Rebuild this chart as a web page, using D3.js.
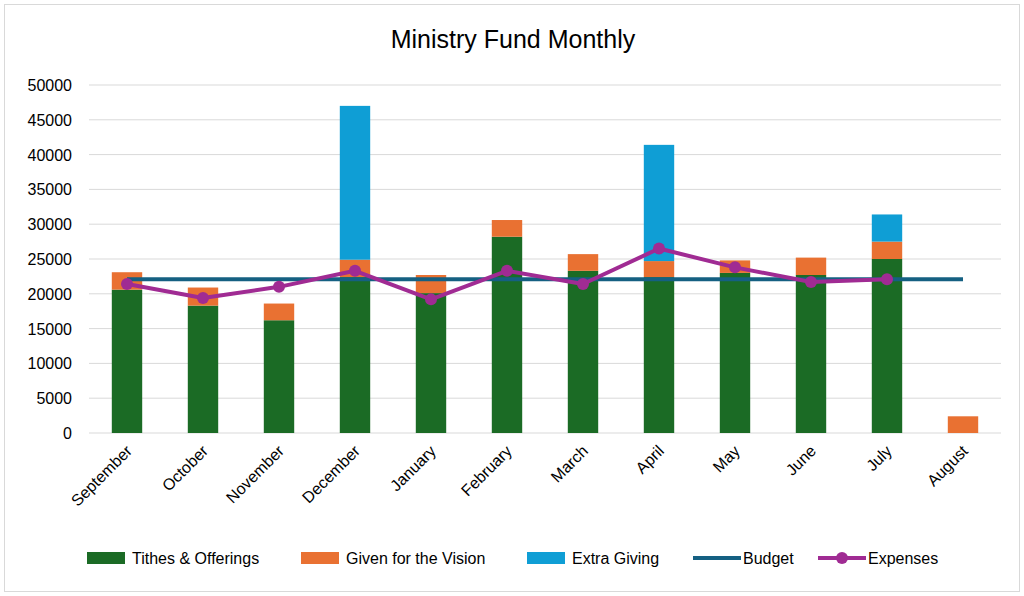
<!DOCTYPE html>
<html><head><meta charset="utf-8">
<script src="https://cdn.jsdelivr.net/npm/d3@7"></script>
<style>body{margin:0;background:#fff;font-family:"Liberation Sans",Arial,sans-serif}</style>
</head><body><svg id="c" width="1024" height="596"></svg>
<script>
var months = ["September","October","November","December","January","February","March","April","May","June","July","August"];
var tithes = [20600,18300,16200,22400,20100,28200,23300,22400,23000,22700,25000,0];
var vision = [2500,2600,2400,2500,2600,2400,2400,2300,1800,2500,2500,2400];
var extra  = [0,0,0,22100,0,0,0,16700,0,0,3900,0];
var budget = [22100,22100,22100,22100,22100,22100,22100,22100,22100,22100,22100,22100];
var expenses = [21400,19400,21000,23300,19200,23300,21400,26500,23800,21700,22100];
var yTicks = [0,5000,10000,15000,20000,25000,30000,35000,40000,45000,50000];

var svg = d3.select("#c");
svg.append("rect").attr("x",4.5).attr("y",4.5).attr("width",1015).attr("height",587).attr("fill","#fff").attr("stroke","#d9d9d9");
svg.append("text").attr("x",513).attr("y",48).attr("text-anchor","middle").attr("font-size",25).attr("fill","#000").text("Ministry Fund Monthly");

var x = d3.scaleBand().domain(months).range([89,1001]).paddingInner(0.6).paddingOuter(0.3);
var y = d3.scaleLinear().domain([0,50000]).range([433,85]);

var g = svg.append("g");
g.selectAll("line.grid").data(yTicks).join("line").attr("x1",89).attr("x2",1001)
 .attr("y1",d=>y(d)).attr("y2",d=>y(d)).attr("stroke","#d9d9d9");
g.selectAll("text.yl").data(yTicks).join("text").attr("x",72).attr("y",d=>y(d)+6)
 .attr("text-anchor","end").attr("font-size",16).attr("fill","#000").text(d=>d);

var series = [{k:"Tithes & Offerings",v:tithes,c:"#1b6b25"},{k:"Given for the Vision",v:vision,c:"#e97132"},{k:"Extra Giving",v:extra,c:"#0f9ed5"}];
var base = months.map(()=>0);
series.forEach(function(s){
  var b0 = base.slice();
  g.selectAll(null).data(months).join("rect").attr("x",d=>x(d)).attr("width",x.bandwidth())
   .attr("y",(d,i)=>y(b0[i]+s.v[i])).attr("height",(d,i)=>y(b0[i])-y(b0[i]+s.v[i])).attr("fill",s.c);
  s.v.forEach((v,i)=>base[i]+=v);
});

var cx = d=>x(d)+x.bandwidth()/2;
g.append("path").datum(budget).attr("fill","none").attr("stroke","#156082").attr("stroke-width",4)
 .attr("d",d3.line().x((d,i)=>cx(months[i])).y(d=>y(d)));
g.append("path").datum(expenses).attr("fill","none").attr("stroke","#a02b93").attr("stroke-width",4)
 .attr("stroke-linejoin","round").attr("d",d3.line().x((d,i)=>cx(months[i])).y(d=>y(d)));
g.selectAll("circle.e").data(expenses).join("circle").attr("cx",(d,i)=>cx(months[i])).attr("cy",d=>y(d))
 .attr("r",6).attr("fill","#a02b93");

g.selectAll("text.xl").data(months).join("text")
 .attr("transform",d=>"translate("+(cx(d)+6)+",452) rotate(-45)")
 .attr("text-anchor","end").attr("font-size",16).attr("fill","#000").text(d=>d);

var leg = [{k:"Tithes & Offerings",c:"#1b6b25",t:"box",x:87},{k:"Given for the Vision",c:"#e97132",t:"box",x:301},
 {k:"Extra Giving",c:"#0f9ed5",t:"box",x:527},{k:"Budget",c:"#156082",t:"line",x:693},{k:"Expenses",c:"#a02b93",t:"dot",x:818}];
leg.forEach(function(l){
  if(l.t==="box"){ svg.append("rect").attr("x",l.x).attr("y",552).attr("width",38).attr("height",12).attr("fill",l.c); }
  else { svg.append("line").attr("x1",l.x).attr("x2",l.x+48).attr("y1",558).attr("y2",558).attr("stroke",l.c).attr("stroke-width",4);
    if(l.t==="dot") svg.append("circle").attr("cx",l.x+24).attr("cy",558).attr("r",6).attr("fill",l.c); }
  svg.append("text").attr("x",l.x+(l.t==="box"?45:50)).attr("y",564).attr("font-size",16).attr("fill","#000").text(l.k);
});
</script></body></html>
